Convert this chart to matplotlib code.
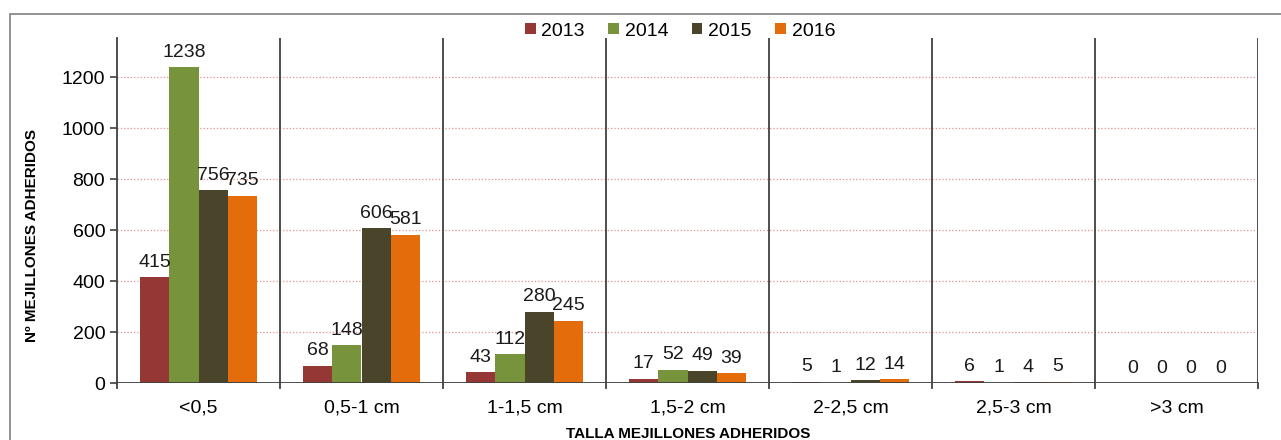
import numpy as np
import matplotlib.pyplot as plt
from matplotlib.patches import Rectangle

plt.rcParams['font.family'] = ['Liberation Sans', 'DejaVu Sans']

categories = ['<0,5', '0,5-1 cm', '1-1,5 cm', '1,5-2 cm', '2-2,5 cm', '2,5-3 cm', '>3 cm']
years = ['2013', '2014', '2015', '2016']
v2013 = [415, 68, 43, 17, 5, 6, 0]
v2014 = [1238, 148, 112, 52, 1, 1, 0]
v2015 = [756, 606, 280, 49, 12, 4, 0]
v2016 = [735, 581, 245, 39, 14, 5, 0]
colors = ['#953735', '#77933C', '#4A452A', '#E46C0A']

fig = plt.figure(figsize=(12.81, 4.40), dpi=100)
# outer chart frame
fig.patches.append(Rectangle((10 / 1281, -0.1), 1.2, 1 - 14 / 440 + 0.1, transform=fig.transFigure,
                             fill=False, edgecolor='#808080', linewidth=1.2))
ax = fig.add_axes([117 / 1281, 1 - 383 / 440, (1258 - 117) / 1281, (383 - 38) / 440])

x = np.arange(len(categories))
w = 0.18
series = [v2013, v2014, v2015, v2016]
for i, (vals, c, yr) in enumerate(zip(series, colors, years)):
    pos = x + (i - 1.5) * w
    ax.bar(pos, vals, width=w, color=c, label=yr, zorder=3)
    for p, v in zip(pos, vals):
        ax.text(p, v + 25, str(v), ha='center', va='bottom', fontsize=14, color='#1a1a1a', zorder=4)

ax.set_xlim(-0.5, len(categories) - 0.5)
ax.set_ylim(0, 1353)
ax.set_yticks(range(0, 1201, 200))
ax.tick_params(axis='y', labelsize=14, length=5, width=1.2, color='#404040')
ax.set_xticks(x)
ax.set_xticklabels(categories, fontsize=14)
ax.tick_params(axis='x', length=0, pad=12)

ax.grid(axis='y', color='#E06060', linestyle=':', linewidth=0.9, alpha=0.7, zorder=0)
for s in ['top', 'right', 'bottom']:
    ax.spines[s].set_visible(False)
ax.spines['left'].set_color('#404040')
ax.spines['left'].set_linewidth(1.3)
ax.axhline(0, color='#404040', linewidth=1.3, zorder=5)
for b in np.arange(0.5, len(categories) - 0.5, 1.0):
    ax.axvline(b, color='#404040', linewidth=1.3, zorder=2)
ax.axvline(len(categories) - 0.5, color='#404040', linewidth=1.3, zorder=2)
for b in np.arange(-0.5, len(categories), 1.0):
    ax.plot([b, b], [0, -20], color='#404040', linewidth=1.3, clip_on=False)

fig.text(32 / 1281, 1 - 235 / 440, 'Nº MEJILLONES ADHERIDOS', rotation=90, ha='center', va='center',
         fontsize=11, fontweight='bold')
fig.text(688 / 1281, 1 - 427 / 440, 'TALLA MEJILLONES ADHERIDOS', ha='center', va='top',
         fontsize=11, fontweight='bold')

ax.legend(loc='center', bbox_to_anchor=(680 / 1281, 1 - 31 / 440), bbox_transform=fig.transFigure,
          ncol=4, frameon=False, fontsize=14, handlelength=0.55, handleheight=0.55,
          handletextpad=0.3, columnspacing=1.2)

fig.savefig('out.png', dpi=100)
